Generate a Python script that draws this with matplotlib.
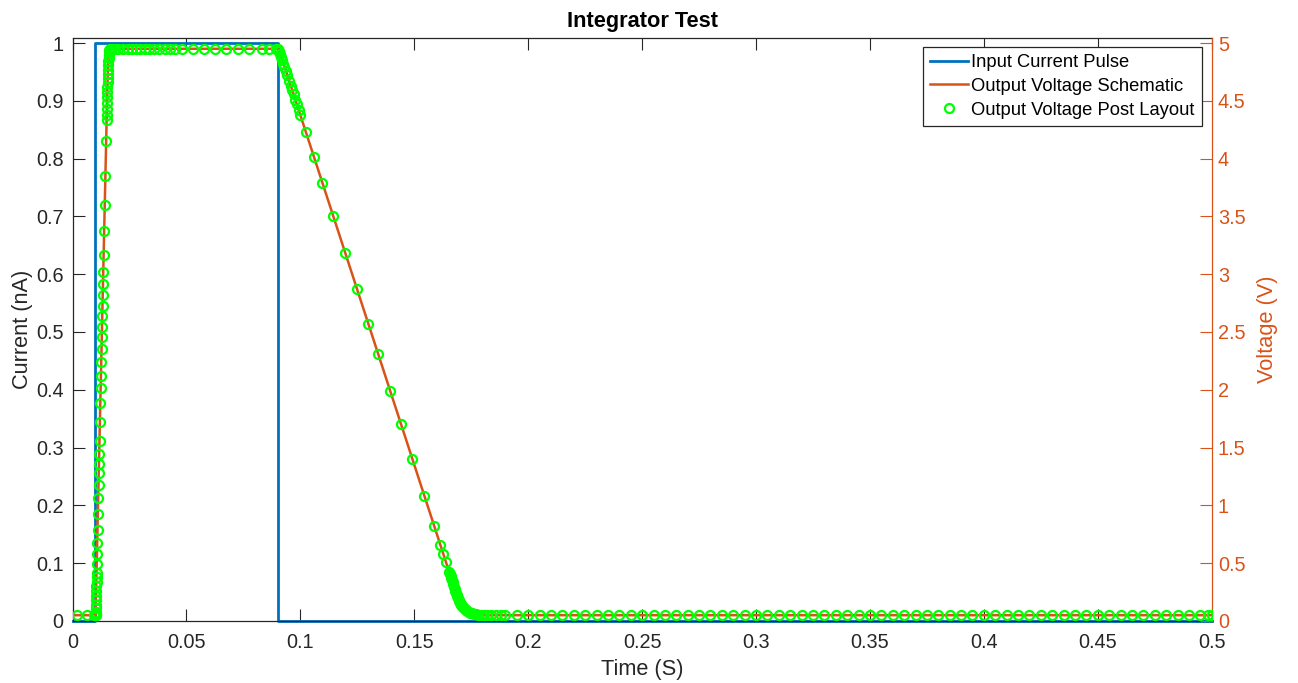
import matplotlib
matplotlib.use("Agg")
import matplotlib.pyplot as plt
from matplotlib.ticker import FixedLocator, FixedFormatter

plt.rcParams['font.family'] = ['Liberation Sans', 'DejaVu Sans']

BLUE = '#0072BD'
ORANGE = '#D95319'
GREEN = '#00FF00'
DARK = '#262626'

# Input current pulse (nA)
t_pulse = [0.0, 0.0100, 0.0100, 0.0900, 0.0900, 0.5]
i_pulse = [0.0, 0.0, 1.0, 1.0, 0.0, 0.0]

# Schematic simulation of the integrator output (V)
t_sch = [0.0, 0.0101, 0.01476, 0.01500, 0.01524, 0.01548, 0.01571, 0.01590, 0.01618, 0.0166,
         0.0896, 0.0902, 0.0906, 0.0910, 0.0915, 0.1650, 0.1674, 0.1680, 0.1689,
         0.1698, 0.1707, 0.1718, 0.1732, 0.1752, 0.1780, 0.1820, 0.5]
v_sch = [0.05, 0.05, 4.155, 4.38, 4.58, 4.73, 4.845, 4.90, 4.94, 4.95,
         4.95, 4.945, 4.93, 4.905, 4.89, 0.443, 0.297, 0.262, 0.212,
         0.170, 0.137, 0.109, 0.085, 0.067, 0.055, 0.050, 0.05]

# Post-layout simulation samples of the integrator output (V)
t_post = [0.0020, 0.0065, 0.0093, 0.0098, 0.0100, 0.0101, 0.0102,
          0.01021, 0.01023, 0.01027, 0.01030, 0.01034, 0.01039, 0.01043, 0.01048,
          0.01052, 0.01057, 0.01061, 0.01069, 0.01079, 0.01089, 0.01102, 0.01117,
          0.01133, 0.01145, 0.01157, 0.01165, 0.01175, 0.01187, 0.01206, 0.01224,
          0.01238, 0.01250, 0.01263, 0.01276, 0.01288, 0.01297, 0.01308, 0.01317,
          0.01328, 0.01338, 0.01350, 0.01366, 0.01389, 0.01414, 0.01442, 0.01476,
          0.01496, 0.01500, 0.01506, 0.01512, 0.01518, 0.01524, 0.01530, 0.01536,
          0.01542, 0.01548, 0.01555, 0.01563, 0.01571, 0.01580, 0.01590, 0.01602,
          0.01618, 0.01640,
          0.01722, 0.01867, 0.02011, 0.02231, 0.02451, 0.02600, 0.02789, 0.02965,
          0.03190, 0.03370, 0.03580, 0.03810, 0.04060, 0.04280, 0.04500, 0.04800,
          0.05280, 0.05760, 0.06260, 0.06740, 0.07240, 0.07740, 0.08310, 0.08640,
          0.0893, 0.0898, 0.0902, 0.0906, 0.0910, 0.0914, 0.0919, 0.0924, 0.0929,
          0.0936, 0.0943, 0.0952, 0.0958, 0.0965, 0.0970, 0.0977, 0.0985, 0.0992,
          0.0999, 0.1024, 0.1061, 0.1096, 0.1144, 0.1197, 0.1249, 0.1298, 0.1342,
          0.1394, 0.1443, 0.1491, 0.1544, 0.1588, 0.1614, 0.1627, 0.1640,
          0.1653, 0.1656, 0.1659, 0.1662, 0.1665, 0.1668, 0.1671, 0.1674, 0.1677,
          0.1680, 0.1683, 0.1686, 0.1689, 0.1692, 0.1695, 0.1698, 0.1701, 0.1704,
          0.1707, 0.1710, 0.1714, 0.1718, 0.1722, 0.1727, 0.1732, 0.1738, 0.1745,
          0.1752, 0.1760, 0.1770, 0.1780, 0.1792, 0.1805, 0.1820, 0.1838, 0.1858,
          0.1880, 0.1900,
          0.195, 0.200, 0.205, 0.210, 0.215, 0.220, 0.225, 0.230, 0.235, 0.240,
          0.245, 0.250, 0.255, 0.260, 0.265, 0.270, 0.275, 0.280, 0.285, 0.290,
          0.295, 0.300, 0.305, 0.310, 0.315, 0.320, 0.325, 0.330, 0.335, 0.340,
          0.345, 0.350, 0.355, 0.360, 0.365, 0.370, 0.375, 0.380, 0.385, 0.390,
          0.395, 0.400, 0.405, 0.410, 0.415, 0.420, 0.425, 0.430, 0.435, 0.440,
          0.445, 0.450, 0.455, 0.460, 0.465, 0.470, 0.475, 0.480, 0.485, 0.490,
          0.495, 0.4985, 0.500]
v_post = [0.05, 0.05, 0.05, 0.05, 0.05, 0.05, 0.05,
          0.06, 0.08, 0.11, 0.14, 0.18, 0.22, 0.26, 0.30,
          0.34, 0.38, 0.415, 0.493, 0.58, 0.675, 0.787, 0.925,
          1.064, 1.176, 1.28, 1.358, 1.445, 1.557, 1.72, 1.886,
          2.015, 2.12, 2.24, 2.353, 2.46, 2.545, 2.64, 2.725,
          2.82, 2.915, 3.02, 3.166, 3.374, 3.60, 3.85, 4.155,
          4.33, 4.38, 4.43, 4.48, 4.53, 4.58, 4.62, 4.66,
          4.695, 4.73, 4.77, 4.81, 4.845, 4.87, 4.90, 4.925,
          4.94, 4.948,
          4.95, 4.95, 4.95, 4.95, 4.95, 4.95, 4.95, 4.95,
          4.95, 4.95, 4.95, 4.95, 4.95, 4.95, 4.95, 4.95,
          4.95, 4.95, 4.95, 4.95, 4.95, 4.95, 4.95, 4.95,
          4.95, 4.95, 4.945, 4.93, 4.905, 4.88, 4.85, 4.82, 4.79,
          4.76, 4.72, 4.67, 4.63, 4.59, 4.56, 4.51, 4.47, 4.42,
          4.38, 4.23, 4.01, 3.79, 3.50, 3.18, 2.87, 2.57, 2.31,
          1.99, 1.70, 1.40, 1.08, 0.82, 0.66, 0.58, 0.51,
          0.425, 0.406, 0.388, 0.370, 0.352, 0.334, 0.316, 0.297, 0.280,
          0.262, 0.245, 0.228, 0.212, 0.197, 0.183, 0.170, 0.158, 0.147,
          0.137, 0.128, 0.118, 0.109, 0.100, 0.092, 0.085, 0.078, 0.072,
          0.067, 0.062, 0.058, 0.055, 0.053, 0.051, 0.050, 0.05, 0.05,
          0.05, 0.05,
          0.05, 0.05, 0.05, 0.05, 0.05, 0.05, 0.05, 0.05, 0.05, 0.05,
          0.05, 0.05, 0.05, 0.05, 0.05, 0.05, 0.05, 0.05, 0.05, 0.05,
          0.05, 0.05, 0.05, 0.05, 0.05, 0.05, 0.05, 0.05, 0.05, 0.05,
          0.05, 0.05, 0.05, 0.05, 0.05, 0.05, 0.05, 0.05, 0.05, 0.05,
          0.05, 0.05, 0.05, 0.05, 0.05, 0.05, 0.05, 0.05, 0.05, 0.05,
          0.05, 0.05, 0.05, 0.05, 0.05, 0.05, 0.05, 0.05, 0.05, 0.05,
          0.05, 0.05, 0.05]

x_ticks = [0, 0.05, 0.1, 0.15, 0.2, 0.25, 0.3, 0.35, 0.4, 0.45, 0.5]
x_labels = ['0', '0.05', '0.1', '0.15', '0.2', '0.25', '0.3', '0.35', '0.4', '0.45', '0.5']
i_ticks = [0, 0.1, 0.2, 0.3, 0.4, 0.5, 0.6, 0.7, 0.8, 0.9, 1]
i_labels = ['0', '0.1', '0.2', '0.3', '0.4', '0.5', '0.6', '0.7', '0.8', '0.9', '1']
v_ticks = [0, 0.5, 1, 1.5, 2, 2.5, 3, 3.5, 4, 4.5, 5]
v_labels = ['0', '0.5', '1', '1.5', '2', '2.5', '3', '3.5', '4', '4.5', '5']

TICK_FS = 14.3
LABEL_FS = 15.7

fig = plt.figure(figsize=(12.98, 6.83), dpi=100)
ax = fig.add_axes([0.0559, 0.0908, 0.8776, 0.8536])
ax2 = ax.twinx()

h1, = ax.plot(t_pulse, i_pulse, color=BLUE, lw=2.0, clip_on=False, zorder=2)
ax.set_xlim(0, 0.5)
ax.set_ylim(0, 1.0087)

h2, = ax2.plot(t_sch, v_sch, color=ORANGE, lw=1.8, zorder=2)
h3, = ax2.plot(t_post, v_post, linestyle='none', marker='o', markersize=6.5,
               markerfacecolor='none', markeredgecolor=GREEN, markeredgewidth=1.6,
               zorder=3)
ax2.set_ylim(0, 5.0435)

ax.xaxis.set_major_locator(FixedLocator(x_ticks))
ax.xaxis.set_major_formatter(FixedFormatter(x_labels))
ax.yaxis.set_major_locator(FixedLocator(i_ticks))
ax.yaxis.set_major_formatter(FixedFormatter(i_labels))
ax2.yaxis.set_major_locator(FixedLocator(v_ticks))
ax2.yaxis.set_major_formatter(FixedFormatter(v_labels))

ax.tick_params(axis='x', direction='in', top=True, length=8.3, width=0.8,
               color=DARK, labelcolor=DARK, labelsize=TICK_FS, pad=9)
ax.tick_params(axis='y', direction='in', left=True, right=False, length=8.3,
               width=0.8, color=DARK, labelcolor=DARK, labelsize=TICK_FS, pad=6.5)
ax2.tick_params(axis='y', direction='in', length=8.3, width=0.8, color=ORANGE,
                labelcolor=ORANGE, labelsize=TICK_FS, pad=4.5)

for side in ['left', 'top', 'bottom']:
    ax.spines[side].set_color(DARK)
    ax.spines[side].set_linewidth(0.9)
    ax2.spines[side].set_visible(False)
ax.spines['right'].set_visible(False)
ax2.spines['right'].set_color(ORANGE)
ax2.spines['right'].set_linewidth(0.9)

ax.set_xlabel('Time (S)', fontsize=LABEL_FS, color=DARK, labelpad=5)
ax.set_ylabel('Current (nA)', fontsize=LABEL_FS, color=DARK, labelpad=2)
ax2.set_ylabel('Voltage (V)', fontsize=LABEL_FS, color=ORANGE, labelpad=8)
ax.set_title('Integrator Test', fontsize=LABEL_FS, fontweight='bold', color='black', pad=8)

leg = ax2.legend([h1, h2, h3],
                 ['Input Current Pulse', 'Output Voltage Schematic', 'Output Voltage Post Layout'],
                 loc='upper right', bbox_to_anchor=(0.9912, 0.9846), fontsize=13.2,
                 frameon=True, fancybox=False, framealpha=1, edgecolor=DARK,
                 borderpad=0.38, labelspacing=0.38, handlelength=2.1, handletextpad=0.17,
                 borderaxespad=0.0)
leg.get_frame().set_linewidth(0.9)

fig.savefig('out.png', dpi=100)
